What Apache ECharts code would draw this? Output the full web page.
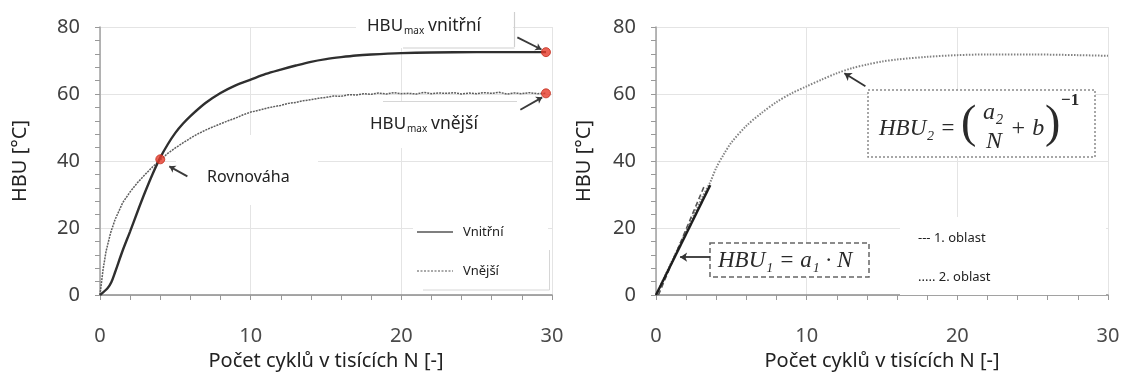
<!DOCTYPE html>
<html>
<head>
<meta charset="utf-8">
<script src="https://cdn.jsdelivr.net/npm/echarts@6/dist/echarts.min.js"></script>
<style>
  html, body { margin: 0; padding: 0; background: #fff; }
  #chart { width: 1123px; height: 376px; }
</style>
</head>
<body>
<div id="chart"></div>
<script>
// --- data ---
const innerN   = [0, 0.5, 0.75, 1, 1.5, 2, 2.5, 3, 3.5, 4, 4.5, 5, 5.5, 6, 7, 8, 9, 10, 11, 12, 13, 14, 15, 16, 17, 18, 20, 22, 25, 29.6];
const innerHBU = [0, 2, 3.8, 6.8, 13.2, 19, 25, 30.8, 36.2, 41, 45, 48.4, 51.1, 53.4, 57.3, 60.3, 62.6, 64.3, 66, 67.3, 68.5, 69.6, 70.4, 71, 71.5, 71.8, 72.2, 72.4, 72.5, 72.5];

const outerN   = [0, 0.2, 0.4, 0.7, 1, 1.5, 2, 2.5, 3, 3.5, 4, 4.5, 5, 5.5, 6, 6.5, 7, 7.5, 8, 8.5, 9, 9.5, 10, 10.5, 11, 11.5, 12, 12.5, 13, 13.5, 14, 14.5, 15, 15.5, 16, 16.5, 17, 17.5, 18, 18.5, 19, 19.5, 20, 20.5, 21, 21.5, 22, 22.5, 23, 23.5, 24, 24.5, 25, 25.5, 26, 26.5, 27, 27.5, 28, 28.5, 29, 29.6];
const outerHBU = [0, 7.5, 13, 18.5, 22.5, 27.5, 30.8, 33.6, 36, 38.3, 40.3, 42.3, 43.9, 45.4, 46.8, 48.1, 49.2, 50.2, 51.1, 52.0, 52.8, 53.8, 54.6, 55.1, 55.7, 56.2, 56.6, 57.2, 57.5, 58.0, 58.3, 58.7, 59.0, 59.4, 59.3, 59.8, 59.7, 60.1, 59.9, 60.3, 60.0, 60.4, 60.1, 60.2, 60.0, 60.5, 60.1, 60.3, 60.2, 60.4, 60.0, 60.3, 60.1, 60.4, 60.2, 60.5, 60.0, 60.3, 60.1, 60.4, 60.1, 60.2];

const pointN   = [4, 29.6, 29.6];
const pointHBU = [40.5, 72.5, 60.2];

const fitN   = [0, 1, 2, 3, 3.6, 4, 4.5, 5, 6, 7, 8, 9, 10, 11, 12, 13, 14, 15, 16, 18, 20, 22, 25, 28, 30];
const fitHBU = [0, 9.5, 19, 28.5, 33.7, 38, 42, 45.5, 50.5, 54.3, 57.6, 60.2, 62.3, 64.3, 66.2, 67.7, 68.8, 69.7, 70.3, 71.1, 71.6, 71.8, 71.8, 71.6, 71.4];

const lin1N    = [0, 3.6];
const lin1HBU  = [0, 32.8];
const lin1dN   = [0.16, 3.25];
const lin1dHBU = [0, 33];

const xTitle = 'Počet cyklů v tisících N [-]';
const yTitle = 'HBU [°C]';

const zip = (a, b) => a.map((v, i) => [v, b[i]]);

const FONT = 'Noto Sans';
const SERIF = 'Liberation Serif';

const xAxisBase = {
  type: 'value', min: 0, max: 30, interval: 10,
  name: xTitle, nameLocation: 'middle', nameGap: 56,
  nameTextStyle: { color: '#222', fontSize: 20, fontFamily: FONT },
  axisLine: { lineStyle: { color: '#8c8c8c', width: 1.5 } },
  axisTick: { show: true, length: 5, lineStyle: { color: '#999' } },
  minorTick: { show: true, splitNumber: 5, length: 5, lineStyle: { color: '#999' } },
  axisLabel: { color: '#4a4a4a', fontSize: 20, fontFamily: FONT, margin: 31 },
  splitLine: { lineStyle: { color: '#e4e4e4' } }
};
const yAxisBase = {
  type: 'value', min: 0, max: 80, interval: 20,
  name: yTitle, nameLocation: 'middle',
  nameTextStyle: { color: '#222', fontSize: 20, fontFamily: FONT },
  axisLine: { show: true, lineStyle: { color: '#a0a0a0', width: 1.5 } },
  axisTick: { show: true, length: 5, lineStyle: { color: '#999' } },
  minorTick: { show: true, splitNumber: 5, length: 5, lineStyle: { color: '#999' } },
  axisLabel: { color: '#404040', fontSize: 20, fontFamily: FONT, margin: 20 },
  splitLine: { lineStyle: { color: '#e4e4e4' } }
};

const arrow = (x1, y1, x2, y2) => [{ coord: [x1, y1] }, { coord: [x2, y2] }];

const txt = (x, y, text, size, opts) => Object.assign({
  type: 'text', x, y, z: 10,
  style: { text, font: size + 'px "' + FONT + '"', fill: '#222', verticalAlign: 'middle', align: 'left' }
}, opts || {});
const ser = (x, y, text, size, extra) => ({
  type: 'text', x, y, z: 10,
  style: Object.assign({ text, font: 'italic ' + size + 'px "' + SERIF + '"', fill: '#2a2a2a', verticalAlign: 'middle', align: 'left' }, extra || {})
});
const box = (x, y, w, h, style) => ({ type: 'rect', z: 1, shape: { x, y, width: w, height: h }, style: Object.assign({ fill: '#fff' }, style || {}) });
const line = (x1, y1, x2, y2, color, width, dash) => ({
  type: 'line', z: 10, shape: { x1, y1, x2, y2 },
  style: { stroke: color, lineWidth: width, lineDash: dash || null }
});

const chart = echarts.init(document.getElementById('chart'));
chart.setOption({
  animation: false,
  backgroundColor: '#fff',
  grid: [
    { left: 100, right: 571, top: 27, bottom: 79 },
    { left: 656, right: 15, top: 27, bottom: 79 }
  ],
  xAxis: [
    Object.assign({ gridIndex: 0 }, xAxisBase),
    Object.assign({ gridIndex: 1 }, xAxisBase)
  ],
  yAxis: [
    Object.assign({ gridIndex: 0, nameGap: 70 }, yAxisBase),
    Object.assign({ gridIndex: 1, nameGap: 62 }, yAxisBase)
  ],
  graphic: [
    // white label backgrounds (cover grid lines, under the curves)
    box(356, 4, 157, 44),
    box(362, 102, 155, 46),
    box(176, 135, 142, 70),
    box(413, 205, 135, 85),
    box(900, 217, 206, 78),
    line(514.5, 12, 514.5, 47, '#cfcfcf', 1.2),
    line(403, 48, 514.5, 48, '#cfcfcf', 1.2),
    line(383, 101.5, 517, 101.5, '#d6d6d6', 1.2),
    line(549.5, 250, 549.5, 290, '#d6d6d6', 1),
    line(423, 290, 549.5, 290, '#d6d6d6', 1),

    // left chart labels
    txt(367, 26, 'HBU', 17),
    txt(404, 31, 'max', 10),
    txt(428, 26, 'vnitřní', 17.5),
    txt(370, 124, 'HBU', 17),
    txt(407, 129, 'max', 10),
    txt(431, 124, 'vnější', 17.5),
    txt(207, 177, 'Rovnováha', 16),
    line(417, 232, 453, 232, '#555', 1.3),
    txt(463, 232, 'Vnitřní', 13),
    line(417, 271, 453, 271, '#555', 1.2, [2, 1.5]),
    txt(463, 271, 'Vnější', 13),

    // right chart labels
    txt(918, 238, '--- 1. oblast', 13),
    txt(918, 277, '..... 2. oblast', 13),

    // HBU2 formula
    box(868, 90, 227, 67, { stroke: '#8a8a8a', lineWidth: 1.5, lineDash: [2, 2] }),
    ser(879, 129, 'HBU₂ =', 23),
    ser(961, 125, '(', 46, { font: '46px "' + SERIF + '"' }),
    ser(983, 113, 'a₂', 24),
    ser(986, 142, 'N', 24),
    ser(1010, 129, '+ b', 24),
    ser(1045, 125, ')', 46, { font: '46px "' + SERIF + '"' }),
    ser(1061, 101, '−1', 17, { font: 'bold 17px "' + SERIF + '"' }),

    // HBU1 formula
    box(710, 243, 159, 34, { stroke: '#666', lineWidth: 1.5, lineDash: [5, 3] }),
    ser(718, 261, 'HBU₁ = a₁ · N', 23)
  ],
  series: [
    {
      name: 'Vnější', type: 'line', xAxisIndex: 0, yAxisIndex: 0,
      data: zip(outerN, outerHBU), showSymbol: false, z: 3,
      lineStyle: { color: '#5e5e5e', width: 1.5, type: [2, 1] }
    },
    {
      name: 'Vnitřní', type: 'line', xAxisIndex: 0, yAxisIndex: 0,
      data: zip(innerN, innerHBU), showSymbol: false, smooth: 0.3, z: 4,
      lineStyle: { color: '#2f2f2f', width: 2.4 }
    },
    {
      type: 'scatter', xAxisIndex: 0, yAxisIndex: 0, z: 6,
      data: zip(pointN, pointHBU), symbolSize: 9,
      itemStyle: { color: '#e63b2a', borderColor: '#c2301f', borderWidth: 1 },
      markLine: {
        silent: true, symbol: ['none', 'arrow'], symbolSize: 6,
        label: { show: false },
        lineStyle: { color: '#3a3a3a', width: 1.8, type: 'solid' },
        data: [
          arrow(27.7, 76.9, 29.3, 73.3),
          arrow(27.9, 55.3, 29.35, 59.0),
          arrow(5.8, 35.4, 4.6, 38.4)
        ]
      }
    },
    {
      name: '2. oblast', type: 'line', xAxisIndex: 1, yAxisIndex: 1,
      data: zip(fitN, fitHBU), showSymbol: false, smooth: 0.3, z: 3,
      lineStyle: { color: '#828282', width: 2, type: [1.5, 1.5] }
    },
    {
      name: '1. oblast dashed', type: 'line', xAxisIndex: 1, yAxisIndex: 1,
      data: zip(lin1dN, lin1dHBU), showSymbol: false, z: 4,
      lineStyle: { color: '#555', width: 1.6, type: [5, 3] }
    },
    {
      name: '1. oblast', type: 'line', xAxisIndex: 1, yAxisIndex: 1,
      data: zip(lin1N, lin1HBU), showSymbol: false, z: 5,
      lineStyle: { color: '#1e1e1e', width: 2.4 },
      markLine: {
        silent: true, symbol: ['none', 'arrow'], symbolSize: 7,
        label: { show: false },
        lineStyle: { color: '#333', width: 1.8, type: 'solid' },
        data: [
          arrow(13.9, 62.3, 12.5, 66.2),
          arrow(3.6, 11.3, 1.6, 11.3)
        ]
      }
    }
  ]
});
</script>
</body>
</html>
